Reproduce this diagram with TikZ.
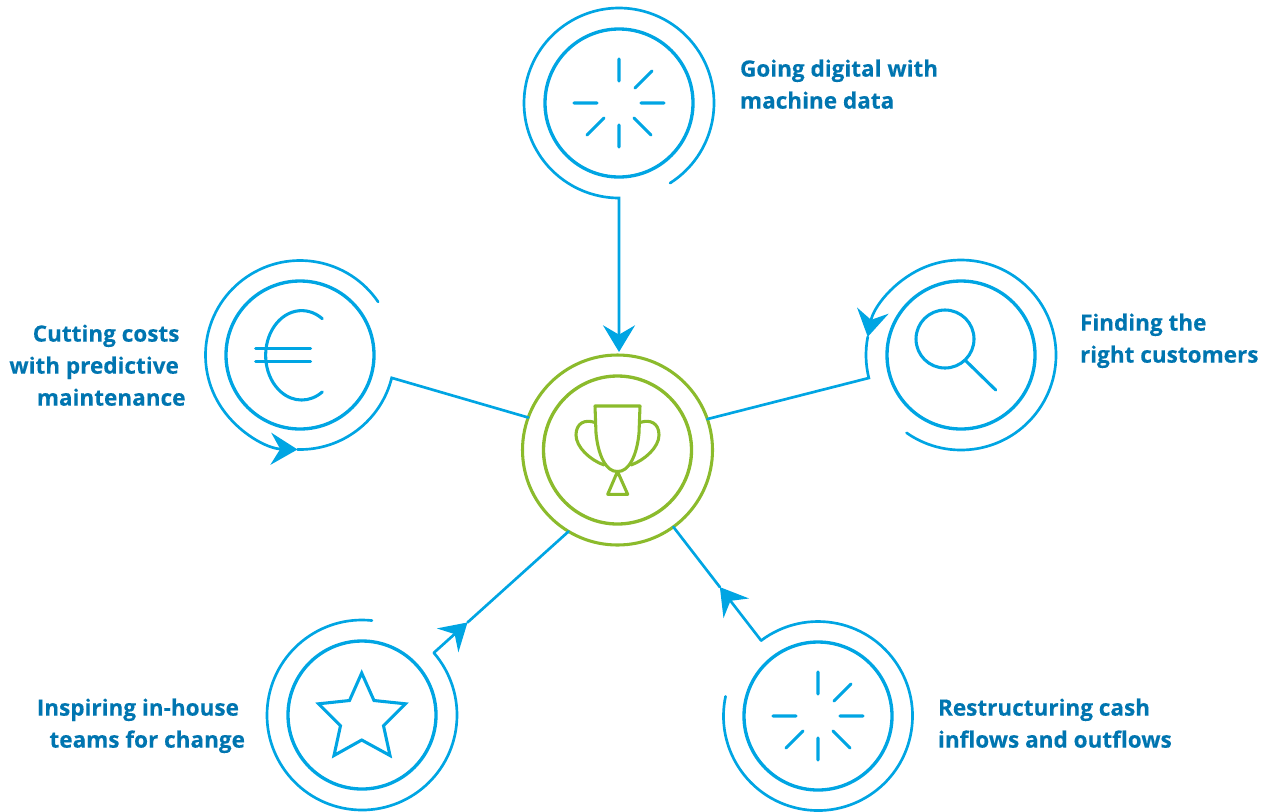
\documentclass[tikz,border=0pt]{standalone}
\usepackage{fontspec}
\setmainfont[BoldFeatures={FakeBold=0.25}]{Open Sans}
\usetikzlibrary{arrows.meta,calc}
\definecolor{ringblue}{HTML}{00A5E3}
\definecolor{textblue}{HTML}{0075B0}
\definecolor{ringgreen}{HTML}{8BBB2C}
\tikzset{
  x=0.75pt,y=-0.75pt,
  inring/.style={draw=ringblue,circle,line width=2.5pt,minimum size=111pt,inner sep=0pt,outer sep=0pt},
  outring/.style={circle,minimum size=142.5pt,inner sep=0pt,outer sep=0pt},
  ln/.style={draw=ringblue,line width=2pt,line cap=round,line join=miter},
  icon/.style={draw=ringblue,line width=2.3pt,line cap=round,line join=miter},
  gicon/.style={draw=ringgreen,line width=2.3pt,line cap=round,line join=round},
  tip/.style={-{Stealth[length=20pt,width=24pt,inset=7pt]}},
  lab/.style={text=textblue,font=\fontsize{16.9pt}{24pt}\selectfont\bfseries,inner sep=0pt,outer sep=0pt}
}
\newcommand{\spark}[1]{%
  \begin{scope}[shift={(#1)}]
    \draw[icon] (0,-44)--(0,-22) (0,22)--(0,44) (-45,0)--(-22,0) (22,0)--(45,0)
      (16,-15)--(33,-32) (-15,15)--(-32,32) (15,15)--(32,32);
  \end{scope}}
\begin{document}
\begin{tikzpicture}
\useasboundingbox (0,0) rectangle (1269,811);
% hub
\node[outring,draw=ringgreen,line width=2.3pt] (hub) at (617.5,450) {};
\node[circle,draw=ringgreen,line width=2.5pt,minimum size=111pt,inner sep=0pt] (hubin) at (617.5,450) {};
% satellites
\node[inring] (topi) at (619,103) {};
\node[outring] (topo) at (619,103) {};
\node[inring] (euri) at (300,355) {};
\node[outring] (euro) at (300,355) {};
\node[inring] (seai) at (961,355) {};
\node[outring] (seao) at (961,355) {};
\node[inring] (stai) at (362,715) {};
\node[outring] (stao) at (362,715) {};
\node[inring] (resi) at (818,716) {};
\node[outring] (reso) at (818,716) {};
% top connector
\coordinate (topend) at ($(hub.north)+(1.5,-3)$);
\draw[ln,tip] (topo.center) ++(57.5:95) arc[start angle=57.5,end angle=-270,radius=95] -- (topend);
% euro connector
\draw[ln,tip] (euro.center) ++(-34.2:94.5) arc[start angle=-34.2,end angle=-268.5,radius=94.5];
\draw[ln] (euro.center) ++(-268.5:94.5) arc[start angle=-268.5,end angle=-346,radius=94.5] coordinate (eurk) -- (hub.160);
% search connector
\draw[ln,tip] (seao.center) ++(125:95) arc[start angle=125,end angle=-169,radius=95];
\draw[ln] (seao.center) ++(-169:95) arc[start angle=-169,end angle=-194,radius=95] coordinate (seak) -- (hub.19);
% star connector
\draw[ln] (stao.center) ++(-84:95) arc[start angle=-84,end angle=-400.9,radius=95] coordinate (stak);
\coordinate (statip) at ($(stak)!0.25!(hub.239)$);
\draw[ln,tip] (stak) -- (statip);
\draw[ln] (statip) -- (hub.239);
% restructure connector
\draw[ln] (reso.center) ++(192:94.5) arc[start angle=192,end angle=-127,radius=94.5] coordinate (resk);
\coordinate (restip) at ($(resk)!0.47!(hub.306)$);
\draw[ln,tip] (resk) -- (restip);
\draw[ln] (restip) -- (hub.306);
% icons
\spark{topi.center}
\spark{resi.center}
\draw[icon] (322.3,318.7) arc[start angle=-55,end angle=-305,x radius=36,y radius=44.7];
\draw[icon] (255.7,348.7)--(310.7,348.7) (255.7,361.3)--(310.7,361.3);
\draw[icon] (945,339) circle[radius=29];
\draw[icon] (966,361)--(995.7,390);
\draw[icon,line join=miter] (361.7,673)--(374,700.5)--(405.5,703.8)--(383.5,725.7)--(390,755.5)--(361.7,740)--(334,755.5)--(340.5,725.7)--(318.5,703.8)--(349.5,700.5)--cycle;
% trophy
\draw[gicon] (595,406) -- (596,433) .. controls (598,455) and (606,472) .. (617.5,471.5) .. controls (629,472) and (637,455) .. (639,433) -- (640,406) -- cycle;
\draw[gicon] (595,422.5) .. controls (585,419) and (576,423) .. (576,435) .. controls (576,447) and (590,460) .. (604,465);
\draw[gicon] (640,422.5) .. controls (650,419) and (659,423) .. (659,435) .. controls (659,447) and (645,460) .. (631,465);
\draw[gicon] (617.5,471.5) -- (607.7,494.3) -- (627.7,494.3) -- cycle;
% labels
\node[lab,align=left,anchor=north west] (t1) at (740,59.5) {Going digital with\\machine data};
\node[lab,align=left,anchor=north west] (t2) at (1080,313.5) {Finding the\\right customers};
\node[lab,align=right,anchor=north east] (t3) at (185.5,324.5) {\mbox{Cutting costs\kern4.5pt}\\\mbox{with predictive\kern5pt}\\maintenance};
\node[lab,align=right,anchor=north east] (t4) at (245,698.5) {\mbox{Inspiring in-house\kern4.5pt}\\teams for change};
\node[lab,align=left,anchor=north west] (t5) at (938,698.5) {Restructuring cash\\inflows and outflows};
\end{tikzpicture}
\end{document}
